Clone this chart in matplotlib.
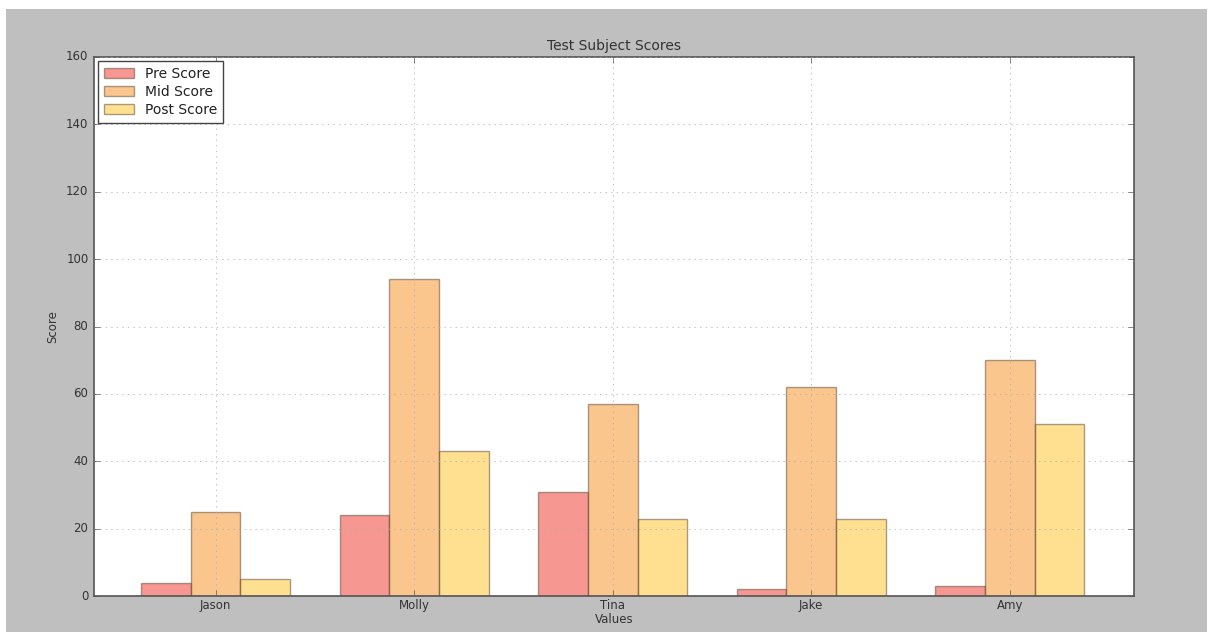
import numpy as np
import matplotlib
matplotlib.use("Agg")
import matplotlib.pyplot as plt
from matplotlib.patches import Rectangle

plt.style.use('classic')

# data
names = ['Jason', 'Molly', 'Tina', 'Jake', 'Amy']
pre_score = [4, 24, 31, 2, 3]
mid_score = [25, 94, 57, 62, 70]
post_score = [5, 43, 23, 23, 51]

pos = list(range(len(names)))
width = 0.25
txt = '#333333'

fig = plt.figure(figsize=(12.13, 6.35), dpi=100, facecolor='white')
# gray figure area with a thin white border, as in the screenshot
fig.patches.append(Rectangle((6/1213, 3/635), 1201/1213, 623/635,
                             transform=fig.transFigure, facecolor='#bfbfbf',
                             edgecolor='none', zorder=-10))
ax = fig.add_axes([94/1213, 39/635, 1040/1213, 539/635])

ax.bar(pos, pre_score, width, align='edge', alpha=0.5, color='#EE3224',
       edgecolor='#554433', label='Pre Score')
ax.bar([p + width for p in pos], mid_score, width, align='edge', alpha=0.5, color='#F78F1E',
       edgecolor='#554433', label='Mid Score')
ax.bar([p + width * 2 for p in pos], post_score, width, align='edge', alpha=0.5, color='#FFC222',
       edgecolor='#554433', label='Post Score')

ax.set_ylabel('Score', fontsize=8.5, color=txt)
ax.set_xlabel('Values', fontsize=8.5, color=txt, labelpad=1)
ax.set_title('Test Subject Scores', fontsize=10, color=txt)
ax.set_xticks([p + 1.5 * width for p in pos])
ax.set_xticklabels(names)
ax.tick_params(labelsize=8.5, labelcolor=txt, color='#555555')
ax.tick_params(axis='x', pad=2)
ax.set_xlim(min(pos) - 0.237, max(pos) + width * 4)
ax.set_ylim(0, 160)
ax.grid(True, color='#aaaaaa', linestyle=':')
for s in ax.spines.values():
    s.set_color('#555555')
    s.set_linewidth(1.2)

leg = ax.legend(loc='upper left', fontsize=10, handlelength=2.2, borderaxespad=0.3,
                labelspacing=0.3)
leg.get_frame().set_edgecolor('#444444')
for t in leg.get_texts():
    t.set_color('#222222')

fig.savefig('out.png', dpi=100, facecolor=fig.get_facecolor())
